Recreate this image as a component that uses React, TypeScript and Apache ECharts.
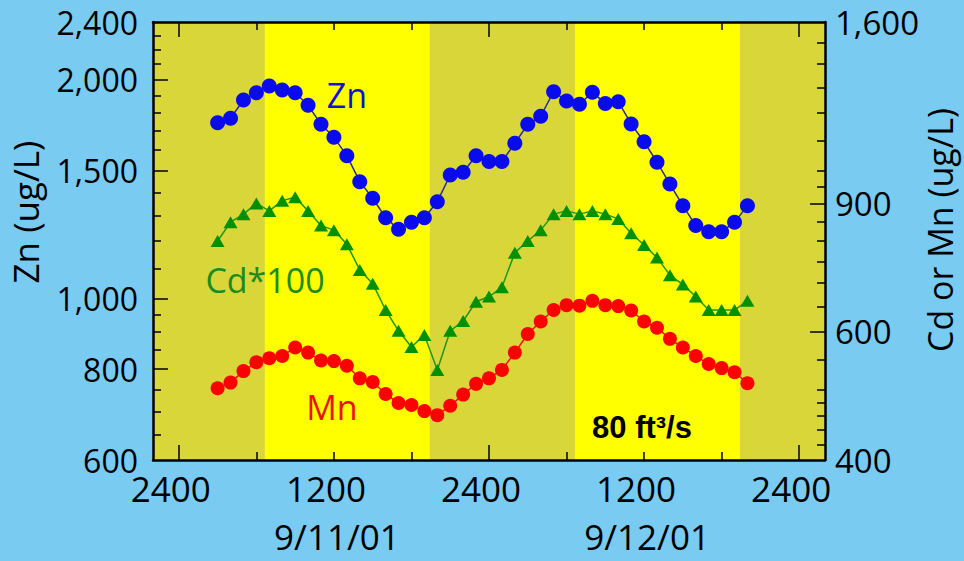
import React, { useEffect, useRef } from "react";
import * as echarts from "echarts";

// Sampling times, hours after midnight starting 9/11/01
const hours = [
  3, 4, 5, 6, 7, 8, 9, 10, 11, 12, 13, 14, 15, 16, 17, 18, 19, 20, 21, 22, 23,
  24, 25, 26, 27, 28, 29, 30, 31, 32, 33, 34, 35, 36, 37, 38, 39, 40, 41, 42, 43, 44,
];

// Concentrations, ug/L
const zinc = [
  1745, 1770, 1875, 1918, 1960, 1935, 1918, 1844, 1736, 1666, 1572, 1448, 1374, 1292,
  1245, 1273, 1292, 1359, 1479, 1492, 1572, 1543, 1543, 1635, 1736, 1781, 1925, 1869,
  1850, 1921, 1855, 1865, 1738, 1643, 1540, 1437, 1342, 1260, 1236, 1236, 1273, 1342,
];
const cadmiumX100 = [
  800, 849, 871, 901, 880, 909, 919, 880, 840, 828, 792, 730, 699, 643, 602, 572, 594,
  532, 602, 621, 660, 671, 691, 771, 800, 828, 871, 880, 871, 880, 871, 858, 820, 790,
  759, 718, 697, 671, 643, 643, 643, 662,
];
const manganese = [
  502, 511, 530, 545, 552, 556, 571, 562, 548, 547, 539, 518, 512, 493, 479, 476, 467,
  461, 475, 492, 509, 518, 532, 562, 596, 620, 643, 653, 652, 662, 653, 651, 642, 620,
  608, 587, 571, 556, 542, 535, 528, 510,
];

// Daylight periods (hours)
const daylight = [
  [6.65, 19.42],
  [30.65, 43.42],
];

// Axis ticks
const zincLabels = [600, 800, 1000, 1500, 2000, 2400];
const zincMajorTicks = [800, 1000, 1500, 2000];
const zincMinorTicks = [
  650, 700, 750, 850, 900, 950, 1100, 1200, 1300, 1400, 1600, 1700, 1800, 1900, 2100,
  2200, 2300,
];
const cdMnLabels = [400, 600, 900, 1600];
const cdMnMajorTicks = [600, 900];
const cdMnMinorTicks = [
  420, 440, 460, 480, 500, 550, 650, 700, 750, 800, 850, 950, 1000, 1100, 1200, 1300,
  1400, 1500,
];
const timeLabelHours = [0, 12, 24, 36, 48];
const timeLabels = ["2400", "1200", "2400", "1200", "2400"];
const midnightTicks = [0, 24, 48];
const sixHourTicks = [6, 12, 18, 30, 36, 42];
const dateHours = [12, 36];
const dateLabels = ["9/11/01", "9/12/01"];

const FONT = "Open Sans";
const BG = "#7ACBF2";
const NIGHT = "#D9D63A";
const DAY = "#FFFF00";
const INK = "#000000";

const lg = (v: number) => Math.log10(v);

export default function App() {
  const ref = useRef<HTMLDivElement>(null);

  useEffect(() => {
    if (!ref.current) return;
    const chart = echarts.init(ref.current, undefined, { renderer: "svg" });

    const xRange = { min: -2, max: 50 };
    const zRange = { min: lg(600), max: lg(2400) };
    const cRange = { min: lg(400), max: lg(1600) };

    const tickBase = {
      show: true,
      inside: true,
      lineStyle: { color: INK, width: 1.5 },
    };
    const noLabel = { show: false };
    const noLine = { show: false, onZero: false };
    const borderLine = { show: true, onZero: false, lineStyle: { color: INK, width: 2.5 } };

    const xAxes = [
      {
        // bottom: hour labels + midnight ticks
        type: "value",
        position: "bottom",
        ...xRange,
        z: 5,
        axisLine: borderLine,
        axisTick: { ...tickBase, length: 15, customValues: midnightTicks },
        axisLabel: {
          customValues: timeLabelHours,
          formatter: (v: number) => timeLabels[timeLabelHours.indexOf(Math.round(v))] ?? "",
          color: INK,
          fontFamily: FONT,
          fontSize: 35,
          margin: 11,
          padding: [0, 16, 0, 0],
        },
        splitLine: { show: false },
      },
      {
        type: "value",
        position: "bottom",
        ...xRange,
        z: 5,
        axisLine: noLine,
        axisTick: { ...tickBase, length: 8, customValues: sixHourTicks },
        axisLabel: noLabel,
        splitLine: { show: false },
      },
      {
        type: "value",
        position: "top",
        ...xRange,
        z: 5,
        axisLine: borderLine,
        axisTick: { ...tickBase, length: 15, customValues: midnightTicks },
        axisLabel: noLabel,
        splitLine: { show: false },
      },
      {
        type: "value",
        position: "top",
        ...xRange,
        z: 5,
        axisLine: noLine,
        axisTick: { ...tickBase, length: 8, customValues: sixHourTicks },
        axisLabel: noLabel,
        splitLine: { show: false },
      },
      {
        // dates under the noon labels
        type: "value",
        position: "bottom",
        ...xRange,
        z: 5,
        axisLine: noLine,
        axisTick: { show: false },
        axisLabel: {
          customValues: dateHours,
          formatter: (v: number) => dateLabels[dateHours.indexOf(Math.round(v))] ?? "",
          color: INK,
          fontFamily: FONT,
          fontSize: 35,
          margin: 59,
          padding: [0, 0, 0, 6],
        },
        splitLine: { show: false },
      },
    ];

    const fmt = (v: number) => Math.round(Math.pow(10, v)).toLocaleString("en-US");

    const yAxes = [
      {
        type: "value",
        position: "left",
        ...zRange,
        z: 5,
        axisLine: borderLine,
        axisTick: { ...tickBase, length: 15, customValues: zincMajorTicks.map(lg) },
        axisLabel: {
          customValues: zincLabels.map(lg),
          formatter: fmt,
          color: INK,
          fontFamily: FONT,
          fontSize: 32,
          margin: 15,
        },
        splitLine: { show: false },
      },
      {
        type: "value",
        position: "left",
        ...zRange,
        z: 5,
        axisLine: noLine,
        axisTick: { ...tickBase, length: 8, customValues: zincMinorTicks.map(lg) },
        axisLabel: noLabel,
        splitLine: { show: false },
      },
      {
        type: "value",
        position: "right",
        ...cRange,
        z: 5,
        axisLine: borderLine,
        axisTick: { ...tickBase, length: 15, customValues: cdMnMajorTicks.map(lg) },
        axisLabel: {
          customValues: cdMnLabels.map(lg),
          formatter: fmt,
          color: INK,
          fontFamily: FONT,
          fontSize: 33,
          margin: 10,
        },
        splitLine: { show: false },
      },
      {
        type: "value",
        position: "right",
        ...cRange,
        z: 5,
        axisLine: noLine,
        axisTick: { ...tickBase, length: 8, customValues: cdMnMinorTicks.map(lg) },
        axisLabel: noLabel,
        splitLine: { show: false },
      },
    ];

    const pts = (vals: number[]) => hours.map((h, i) => [h, lg(vals[i])]);

    chart.setOption({
      animation: false,
      backgroundColor: BG,
      grid: {
        left: 153,
        right: 139,
        top: 22,
        bottom: 101,
        show: true,
        backgroundColor: NIGHT,
        borderWidth: 0,
      },
      xAxis: xAxes,
      yAxis: yAxes,
      series: [
        {
          // daylight shading
          type: "line",
          xAxisIndex: 0,
          yAxisIndex: 0,
          data: [],
          z: 1,
          silent: true,
          markArea: {
            silent: true,
            itemStyle: { color: DAY },
            data: daylight.map(([a, b]) => [{ xAxis: a }, { xAxis: b }]),
          },
        },
        {
          name: "Zn",
          type: "line",
          xAxisIndex: 0,
          yAxisIndex: 0,
          z: 3,
          data: pts(zinc),
          symbol: "circle",
          symbolSize: 15,
          itemStyle: { color: "#0A0AEE" },
          lineStyle: { color: "#2A2A9A", width: 1.5 },
        },
        {
          name: "Cd*100",
          type: "line",
          xAxisIndex: 0,
          yAxisIndex: 2,
          z: 3,
          data: pts(cadmiumX100),
          symbol: "triangle",
          symbolSize: [14, 12],
          itemStyle: { color: "#009000" },
          lineStyle: { color: "#1E961E", width: 1.5 },
        },
        {
          name: "Mn",
          type: "line",
          xAxisIndex: 0,
          yAxisIndex: 2,
          z: 3,
          data: pts(manganese),
          symbol: "circle",
          symbolSize: 14,
          itemStyle: { color: "#FF0000" },
          lineStyle: { color: "#F01010", width: 1.5 },
        },
      ],
      graphic: [
        {
          type: "text",
          x: 25,
          y: 212,
          rotation: Math.PI / 2,
          style: {
            text: "Zn (ug/L)",
            fill: INK,
            fontFamily: FONT,
            fontSize: 35,
            align: "center",
            verticalAlign: "middle",
          },
        },
        {
          type: "text",
          x: 940,
          y: 230,
          rotation: Math.PI / 2,
          style: {
            text: "Cd or Mn (ug/L)",
            fill: INK,
            fontFamily: FONT,
            fontSize: 34,
            align: "center",
            verticalAlign: "middle",
          },
        },
        {
          type: "text",
          x: 347,
          y: 95,
          z: 10,
          style: {
            text: "Zn",
            fill: "#1010DD",
            fontFamily: FONT,
            fontSize: 34,
            align: "center",
            verticalAlign: "middle",
          },
        },
        {
          type: "text",
          x: 265,
          y: 280,
          z: 10,
          style: {
            text: "Cd*100",
            fill: "#1A8C1A",
            fontFamily: FONT,
            fontSize: 34,
            align: "center",
            verticalAlign: "middle",
          },
        },
        {
          type: "text",
          x: 332,
          y: 407,
          z: 10,
          style: {
            text: "Mn",
            fill: "#EE1010",
            fontFamily: FONT,
            fontSize: 34,
            align: "center",
            verticalAlign: "middle",
          },
        },
        {
          type: "text",
          x: 642,
          y: 427,
          z: 10,
          style: {
            text: "80 ft³/s",
            fill: INK,
            fontFamily: "Liberation Sans",
            fontWeight: "bold",
            fontSize: 31,
            align: "center",
            verticalAlign: "middle",
          },
        },
      ],
    });

    return () => chart.dispose();
  }, []);

  return (
    <div
      ref={ref}
      style={{ position: "fixed", left: 0, top: 0, width: 964, height: 561 }}
    />
  );
}
